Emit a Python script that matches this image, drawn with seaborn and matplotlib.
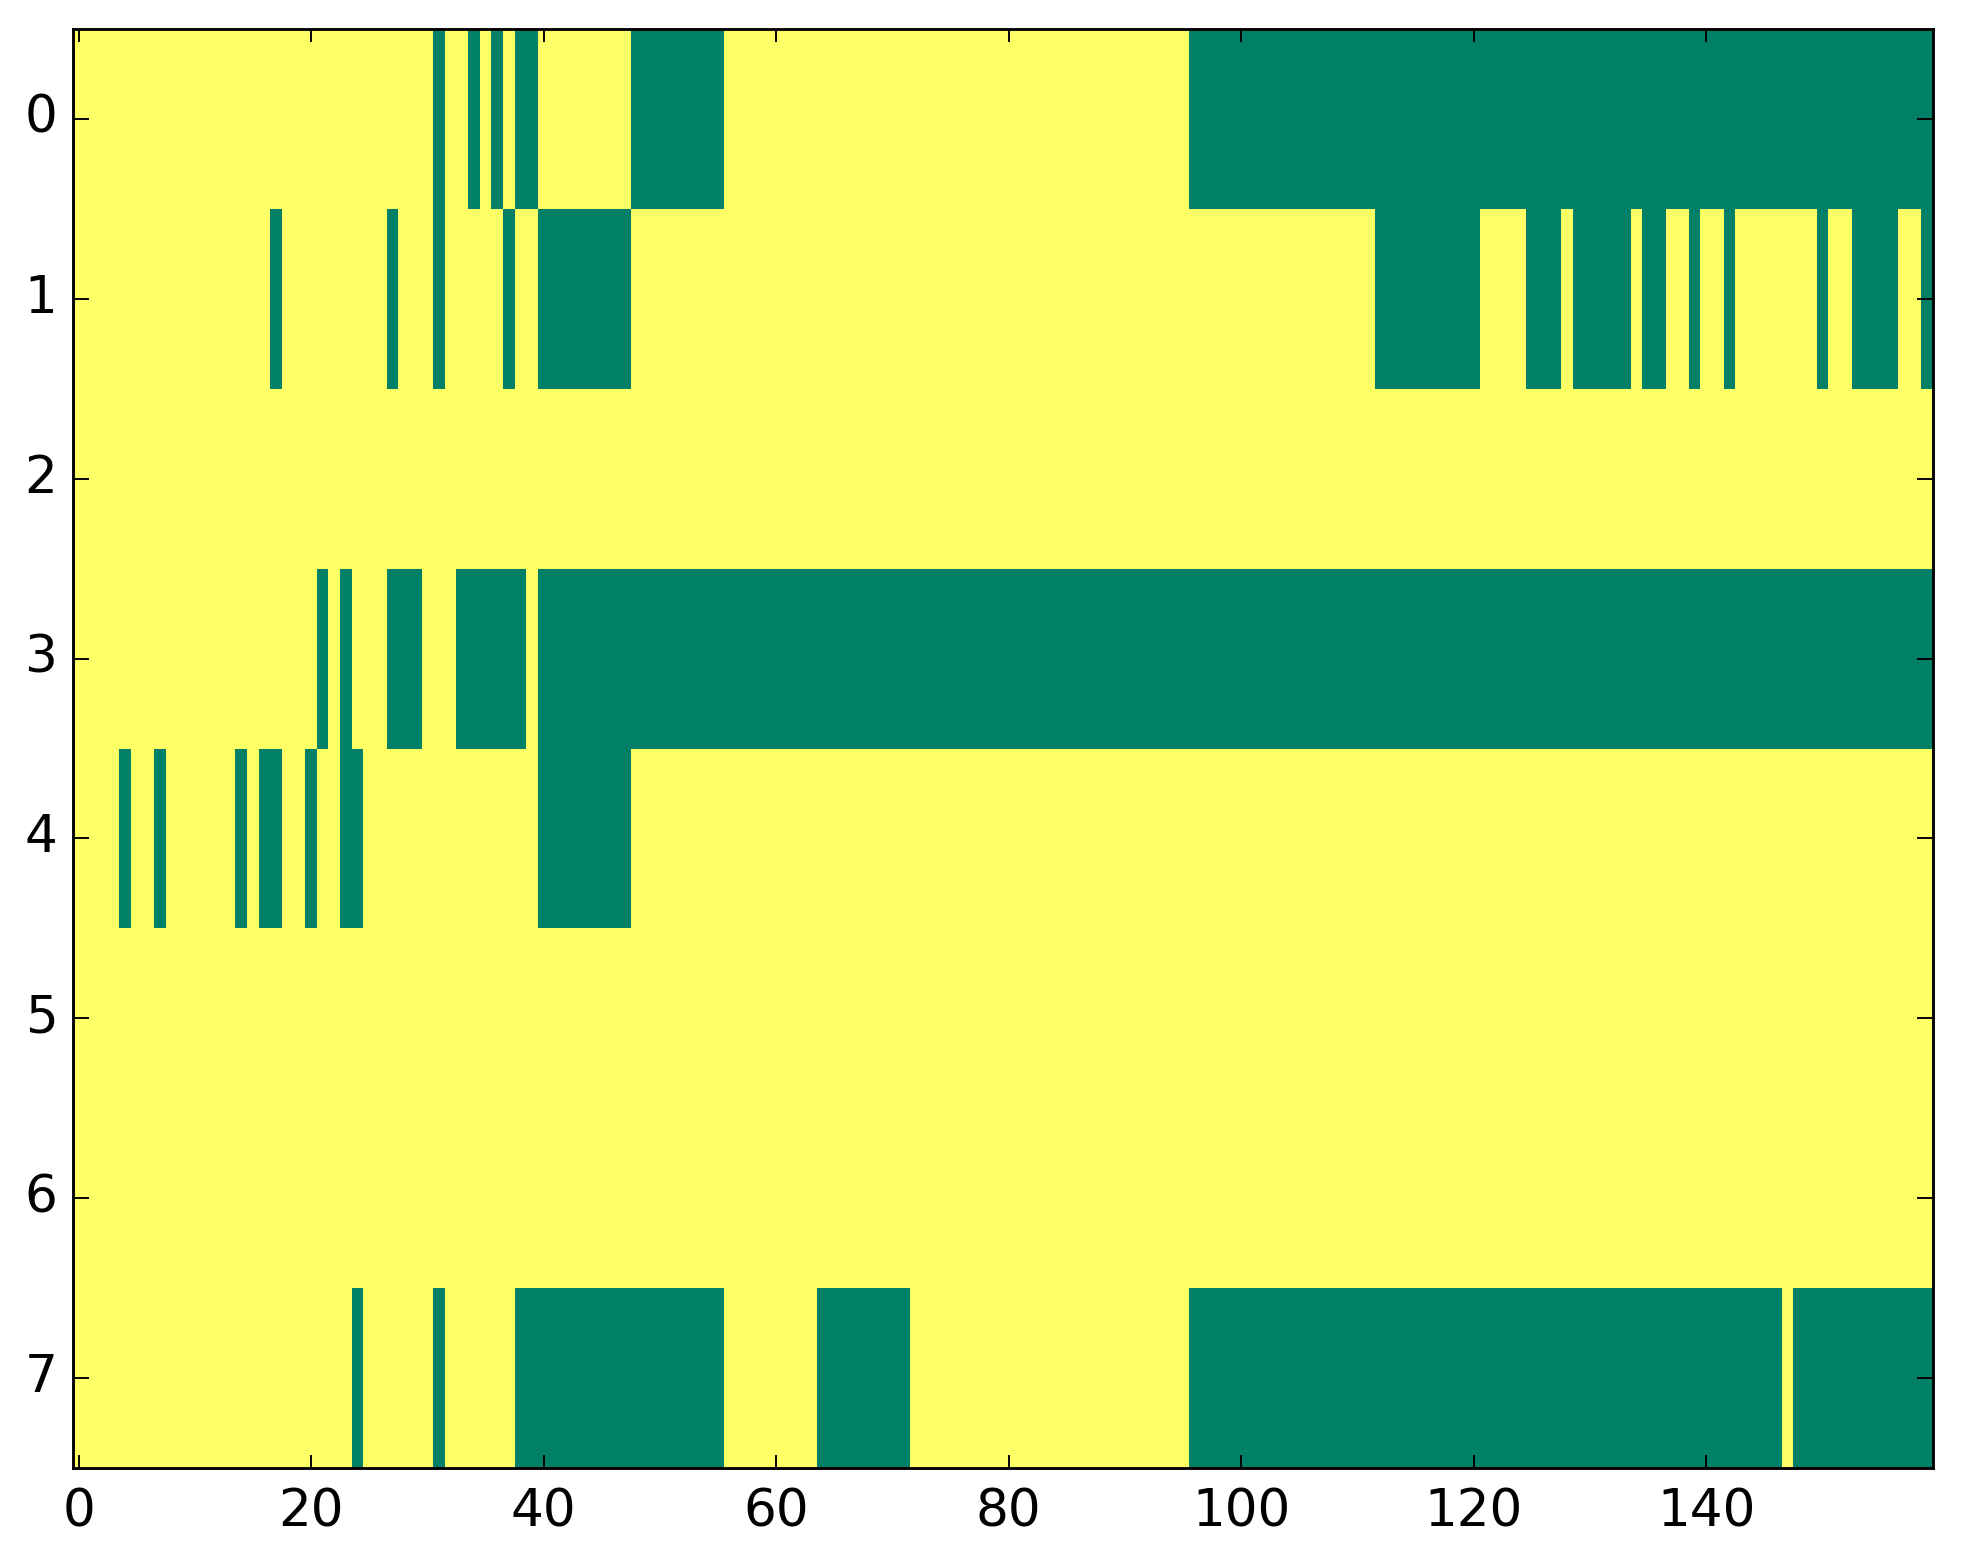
import numpy as np
import pandas as pd
import matplotlib
matplotlib.use("Agg")
import matplotlib.pyplot as plt
import seaborn as sns

# Number of columns and rows in the binary matrix
n_cols = 160
row_labels = [0, 1, 2, 3, 4, 5, 6, 7]
x_tick_values = [0, 20, 40, 60, 80, 100, 120, 140]

# Green (value 0) runs per row, inclusive column index pairs; everything else is 1 (yellow)
row0_green = [(31, 31), (34, 34), (36, 36), (38, 39), (48, 55), (96, 159)]
row1_green = [(17, 17), (27, 27), (31, 31), (37, 37), (40, 47), (112, 120), (125, 127),
              (129, 133), (135, 136), (139, 139), (142, 142), (150, 150), (153, 156), (159, 159)]
row2_green = []
row3_green = [(21, 21), (23, 23), (27, 29), (33, 38), (40, 159)]
row4_green = [(4, 4), (7, 7), (14, 14), (16, 17), (20, 20), (23, 24), (40, 47)]
row5_green = []
row6_green = []
row7_green = [(24, 24), (31, 31), (38, 55), (64, 71), (96, 146), (148, 159)]

rows = [row0_green, row1_green, row2_green, row3_green,
        row4_green, row5_green, row6_green, row7_green]

mat = np.ones((len(rows), n_cols))
for r, runs in enumerate(rows):
    for a, b in runs:
        mat[r, a:b + 1] = 0
df = pd.DataFrame(mat, index=row_labels, columns=range(n_cols))

dpi = 275
W, H = 1963, 1564
fig = plt.figure(figsize=(W / dpi, H / dpi), dpi=dpi)
left, right = 72.7 / W, 1933 / W
bottom, top = 1 - 1468 / H, 1 - 29 / H
ax = fig.add_axes([left, bottom, right - left, top - bottom])

sns.heatmap(df, ax=ax, cmap="summer", vmin=0, vmax=1, cbar=False,
            linewidths=0, rasterized=True)

ax.set_xticks([v + 0.5 for v in x_tick_values])
ax.set_xticklabels([str(v) for v in x_tick_values], rotation=0)
ax.set_yticks([v + 0.5 for v in row_labels])
ax.set_yticklabels([str(v) for v in row_labels], rotation=0)
ax.set_xlabel("")
ax.set_ylabel("")

for s in ax.spines.values():
    s.set_visible(True)
    s.set_linewidth(0.75)
    s.set_color("black")

ax.tick_params(axis="x", which="major", direction="in", length=3.5, width=0.5,
               labelsize=13.5, colors="black", top=True, bottom=True,
               labeltop=False, labelbottom=True, pad=5)
ax.tick_params(axis="y", which="major", direction="in", length=4.2, width=0.5,
               labelsize=13.5, colors="black", left=True, right=True,
               labelleft=True, labelright=False, pad=4)
for lab in ax.get_xticklabels() + ax.get_yticklabels():
    lab.set_fontfamily("DejaVu Sans")

fig.savefig("out.png", dpi=dpi)
